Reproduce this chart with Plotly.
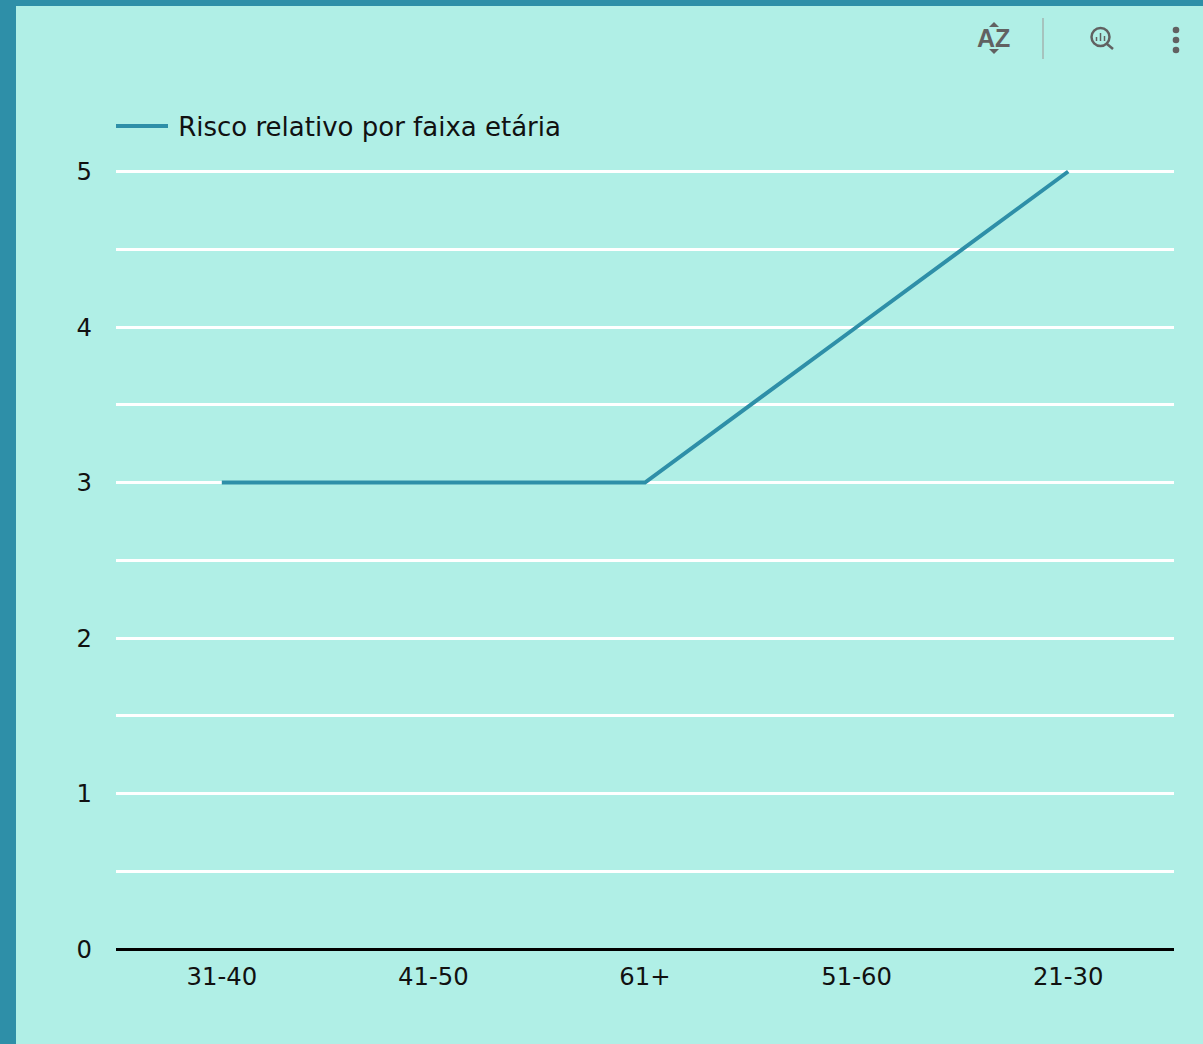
import plotly.graph_objects as go

categories = ["31-40", "41-50", "61+", "51-60", "21-30"]
risk = [3, 3, 3, 4, 5]
y_ticks = [0, 1, 2, 3, 4, 5]
series_name = "Risco relativo por faixa etária"

W, H = 1203, 1044
L, R, T, B = 116, 1174, 169, 949
Y_MAX = 5 + (171.5 - T) / 155.6
BG = "#B0EFE6"
TEAL = "#2E8FA8"
ICON = "#616161"
FONT = "DejaVu Sans"


def px(x):
    return (x - L) / (R - L)


def py(y):
    return (B - y) / (B - T)


def rect(x0, y0, x1, y1, color):
    return dict(type="rect", xref="paper", yref="paper", x0=px(x0), x1=px(x1), y0=py(y0), y1=py(y1),
                fillcolor=color, line_width=0, layer="below")


def circle(cx, cy, r, fill=None, line=None, width=0):
    return dict(type="circle", xref="paper", yref="paper", x0=px(cx - r), x1=px(cx + r), y0=py(cy - r), y1=py(cy + r),
                fillcolor=fill or "rgba(0,0,0,0)", line=dict(color=line or "rgba(0,0,0,0)", width=width))


def seg(x0, y0, x1, y1, color, width):
    return dict(type="line", xref="paper", yref="paper", x0=px(x0), x1=px(x1), y0=py(y0), y1=py(y1),
                line=dict(color=color, width=width))


def tri(cx, base, apex):
    xa, xb, xc = px(cx - 5), px(cx + 5), px(cx)
    ya, yc = py(base), py(apex)
    return dict(type="path", xref="paper", yref="paper", path=f"M{xa},{ya} L{xb},{ya} L{xc},{yc} Z",
                fillcolor=ICON, line_width=0)


shapes = [
    rect(0, 0, 16, H, TEAL),
    rect(0, 0, W, 6, TEAL),
    seg(1043, 18, 1043, 59, "#A3B5B1", 1.5),
    circle(1100.5, 37, 9, line=ICON, width=2.5),
    seg(1107, 44, 1113, 49, ICON, 2.5),
    seg(1096.5, 37, 1096.5, 41, ICON, 1.5),
    seg(1100.5, 33, 1100.5, 41, ICON, 1.5),
    seg(1104.5, 36, 1104.5, 41, ICON, 1.5),
    circle(1176, 30, 3.3, fill=ICON),
    circle(1176, 40, 3.3, fill=ICON),
    circle(1176, 50, 3.3, fill=ICON),
    tri(994, 27, 22),
    tri(994, 49, 54),
]

fig = go.Figure(
    go.Scatter(x=categories, y=risk, name="\u2009" + series_name, mode="lines",
               line=dict(color=TEAL, width=4), showlegend=True)
)

fig.update_layout(
    width=W, height=H,
    margin=dict(l=L, r=W - R, t=T, b=H - B, autoexpand=False),
    paper_bgcolor=BG, plot_bgcolor=BG,
    font=dict(family=FONT, size=24.3, color="#111111"),
    shapes=shapes,
    legend=dict(orientation="h", x=px(111), y=py(126), xanchor="left", yanchor="middle",
                bgcolor="rgba(0,0,0,0)", itemwidth=52, font=dict(size=26, color="#111111")),
    annotations=[dict(xref="paper", yref="paper", x=px(993), y=py(38), xanchor="center", yanchor="middle",
                      text="<b>AZ</b>", showarrow=False,
                      font=dict(size=25, color=ICON, family="Liberation Sans"))],
    xaxis=dict(type="category", range=[-0.5, 4.5], showgrid=False, zeroline=False, showline=False,
               ticks="", ticklabelstandoff=11, fixedrange=True),
    yaxis=dict(range=[0, Y_MAX], tickmode="array", tickvals=y_ticks, showgrid=True, gridcolor="white", gridwidth=2.5,
               zeroline=True, zerolinecolor="black", zerolinewidth=3, ticks="", ticklabelstandoff=23,
               minor=dict(dtick=0.5, tick0=0, showgrid=True, gridcolor="white", gridwidth=2.5, ticks=""),
               fixedrange=True),
)

fig.write_html("out.html", config=dict(displayModeBar=False),
               post_script="document.body.style.margin='0';document.body.style.overflow='hidden';")
